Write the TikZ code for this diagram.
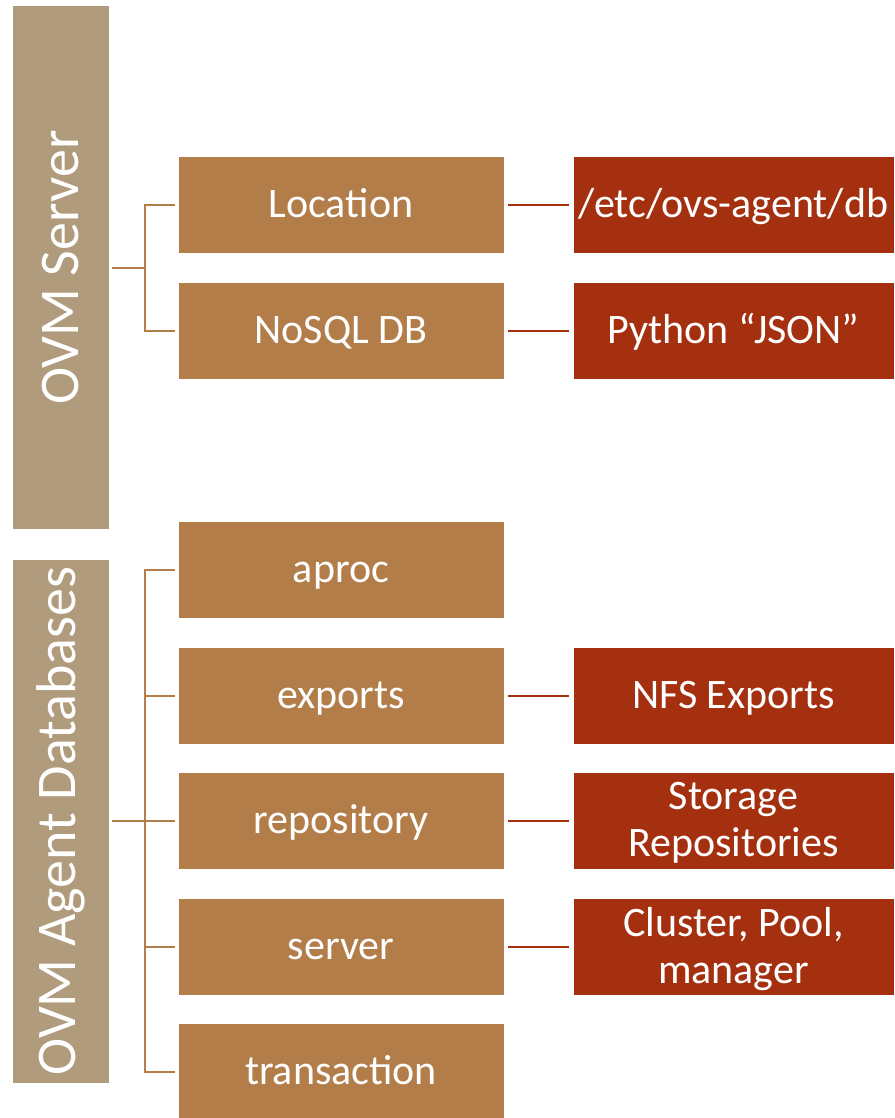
\documentclass[tikz,border=0pt]{standalone}
\usepackage{fontspec}
\setmainfont{Carlito}
\definecolor{tanc}{RGB}{176,155,124}
\definecolor{brownc}{RGB}{178,125,73}
\definecolor{redc}{RGB}{165,48,15}
\tikzset{
  sidebox/.style={fill=tanc, draw=white, line width=0.6pt, minimum width=524pt, minimum height=97pt, inner sep=0pt, text=white, rotate=90, font=\fontsize{56}{61}\selectfont},
  midbox/.style={fill=brownc, draw=white, line width=0.6pt, minimum width=326pt, minimum height=97pt, inner sep=0pt, text=white, text height=28pt, text depth=2.4pt, font=\fontsize{42}{47}\selectfont},
  redbox/.style={fill=redc, draw=white, line width=0.6pt, minimum width=321pt, minimum height=97pt, inner sep=0pt, text=white, align=center, text depth=2.4pt, font=\fontsize{42}{47}\selectfont},
  oneline/.style={text height=28pt},
  bline/.style={draw=brownc, line width=2pt},
  rline/.style={draw=redc, line width=2pt}
}
\begin{document}
\begin{tikzpicture}[x=1pt,y=1pt]
\useasboundingbox (0,0) rectangle (894,-1118);
% side boxes
\node[sidebox] (srv) at (60.5,-267.5) {OVM Server};
\node[sidebox] (agt) at (60.5,-821) {OVM Agent Databases};
% middle boxes
\node[midbox] (loc) at (341,-204.5) {Location};
\node[midbox] (nosql) at (341,-330.5) {NoSQL DB};
\node[midbox] (aproc) at (341,-569.5) {aproc};
\node[midbox] (exports) at (341,-695.5) {exports};
\node[midbox] (repo) at (341,-820.5) {repository};
\node[midbox] (server) at (341,-946.5) {server};
\node[midbox] (trans) at (341,-1071.5) {transaction};
% red boxes
\node[redbox, oneline] (etc) at (733.5,-204.5) {/etc/ovs-agent/db};
\node[redbox, oneline] (json) at (733.5,-330.5) {Python “JSON”};
\node[redbox, oneline] (nfs) at (733.5,-695.5) {NFS Exports};
\node[redbox] (srep) at (733.5,-820.5) {Storage\\Repositories};
\node[redbox] (clus) at (733.5,-946.5) {Cluster, Pool,\\manager};
% tree connectors
\draw[bline] ([xshift=3pt]srv.south) -- ++(33,0);
\draw[bline] ([xshift=-3pt]loc.west) -- ++(-30,0) |- ([xshift=-3pt]nosql.west);
\draw[bline] ([xshift=3pt]agt.south) -- ++(33,0);
\draw[bline] ([xshift=-3pt]aproc.west) -- ++(-30,0) |- ([xshift=-3pt]trans.west);
\draw[bline] ([xshift=-3pt]exports.west) -- ++(-30,0);
\draw[bline] ([xshift=-3pt]repo.west) -- ++(-30,0);
\draw[bline] ([xshift=-3pt]server.west) -- ++(-30,0);
% red connectors
\draw[rline] ([xshift=4pt]loc.east) -- ([xshift=-4pt]etc.west);
\draw[rline] ([xshift=4pt]nosql.east) -- ([xshift=-4pt]json.west);
\draw[rline] ([xshift=4pt]exports.east) -- ([xshift=-4pt]nfs.west);
\draw[rline] ([xshift=4pt]repo.east) -- ([xshift=-4pt]srep.west);
\draw[rline] ([xshift=4pt]server.east) -- ([xshift=-4pt]clus.west);
\end{tikzpicture}
\end{document}
